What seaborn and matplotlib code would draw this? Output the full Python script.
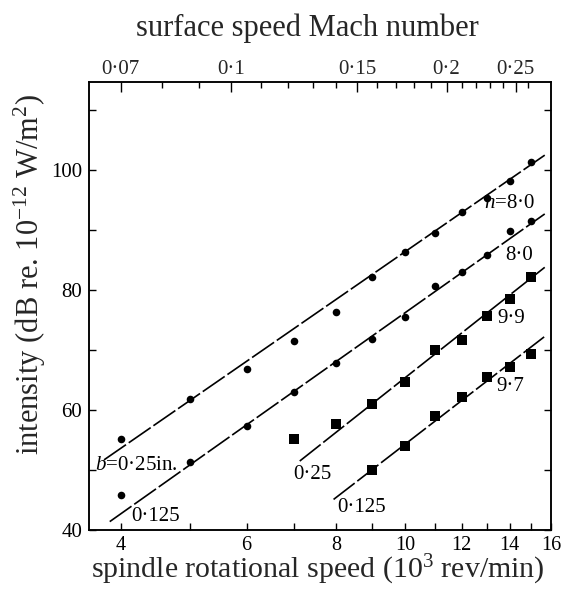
import numpy as np
import pandas as pd
import matplotlib
matplotlib.use("Agg")
import matplotlib.pyplot as plt
from matplotlib.ticker import FixedLocator, FixedFormatter, NullFormatter
import seaborn as sns

# ---- measured data -------------------------------------------------------
# spindle speed in 10^3 rev/min
speed_round = [4, 5, 6, 7, 8, 9, 10, 11, 12, 13, 14, 15]
db_round_b025 = [55.1, 61.8, 66.9, 71.5, 76.3, 82.2, 86.4, 89.5, 93.0, 95.4, 98.2, 101.4]
db_round_b0125 = [45.8, 51.3, 57.3, 63.0, 67.8, 71.8, 75.6, 80.7, 83.0, 85.8, 89.8, 91.5]

speed_sq_b025 = [7, 8, 9, 10, 11, 12, 13, 14, 15]
db_sq_b025 = [55.2, 57.6, 61.0, 64.6, 70.0, 71.7, 75.7, 78.6, 82.2]
speed_sq_b0125 = [9, 10, 11, 12, 13, 14, 15]
db_sq_b0125 = [50.0, 54.0, 59.0, 62.2, 65.5, 67.2, 69.3]

# fitted lines (start / end of each drawn line)
fit_names = ["round 0.25", "round 0.125", "square 0.25", "square 0.125"]
fit_speed_start = [3.79, 3.86, 7.12, 7.94]
fit_speed_end = [15.68, 15.68, 15.68, 15.65]
fit_db_start = [51.7, 41.4, 51.5, 45.1]
fit_db_end = [102.5, 92.7, 83.8, 72.2]

# axis ticks
x_major = [4, 6, 8, 10, 12, 14, 16]
x_minor = [5, 7, 9, 11, 13, 15]
mach_major = [0.07, 0.1, 0.15, 0.2, 0.25]
mach_major_labels = ["0·07", "0·1", "0·15", "0·2", "0·25"]
mach_minor = [0.08, 0.09, 0.11, 0.12, 0.13, 0.14, 0.16, 0.17, 0.18, 0.19,
              0.21, 0.22, 0.23, 0.24, 0.26]
mach_per_speed = 0.0175   # surface Mach number per 10^3 rev/min
y_major = [40, 60, 80, 100]
y_minor = [50, 70, 90, 110]

# in-plot labels: (text, speed, dB)
curve_labels = [
    ("$n$=8·0", 13.98, 94.5),
    ("8·0", 14.43, 85.8),
    ("9·9", 14.07, 75.3),
    ("9·7", 14.02, 64.0),
    ("$b$=0·25in.", 4.21, 50.7),
    ("0·125", 4.47, 42.2),
    ("0·25", 7.42, 49.2),
    ("0·125", 8.70, 43.8),
]

# ---- style ---------------------------------------------------------------
sns.set_theme(style="ticks")
plt.rcParams["font.family"] = ["Liberation Serif", "DejaVu Serif"]
plt.rcParams["mathtext.fontset"] = "custom"
plt.rcParams["mathtext.rm"] = "Liberation Serif"
plt.rcParams["mathtext.it"] = "Liberation Serif:italic"
plt.rcParams["axes.linewidth"] = 1.1

fig = plt.figure(figsize=(5.63, 5.95), dpi=100)
ax = fig.add_axes([0.158, 0.1092, 0.8207, 0.7530])
ax.set_xscale("log")
xlim = (3.61, 16.0)
ax.set_xlim(*xlim)
ax.set_ylim(40, 114.7)

# ---- fitted lines ----------------------------------------------------------
fit_df = pd.DataFrame({
    "line": fit_names * 2,
    "speed": fit_speed_start + fit_speed_end,
    "db": fit_db_start + fit_db_end,
})
sns.lineplot(data=fit_df, x="speed", y="db", units="line", estimator=None,
             color="black", lw=1.2, linestyle=(0, (16, 2)), ax=ax,
             legend=False, sort=True)

# ---- points ---------------------------------------------------------------
round_df = pd.DataFrame({
    "speed": speed_round * 2,
    "db": db_round_b025 + db_round_b0125,
})
square_df = pd.DataFrame({
    "speed": speed_sq_b025 + speed_sq_b0125,
    "db": db_sq_b025 + db_sq_b0125,
})
sns.scatterplot(data=round_df, x="speed", y="db", marker="o", s=30,
                color="black", edgecolor="black", linewidth=0, ax=ax, zorder=3)
sns.scatterplot(data=square_df, x="speed", y="db", marker="s", s=46,
                color="black", edgecolor="black", linewidth=0, ax=ax, zorder=3)

for txt, sx, sy in curve_labels:
    ax.text(sx, sy, txt, fontsize=15, ha="center", va="center", color="black")

# ---- axes ------------------------------------------------------------------
ax.xaxis.set_major_locator(FixedLocator(x_major))
ax.xaxis.set_major_formatter(FixedFormatter([str(v) for v in x_major]))
ax.xaxis.set_minor_locator(FixedLocator(x_minor))
ax.xaxis.set_minor_formatter(NullFormatter())
ax.yaxis.set_major_locator(FixedLocator(y_major))
ax.yaxis.set_minor_locator(FixedLocator(y_minor))
ax.tick_params(axis="both", which="both", direction="in", color="black",
               width=1.0, labelcolor="black")
ax.tick_params(axis="x", which="both", length=5, pad=4, labelsize=14.5)
ax.tick_params(axis="y", which="both", length=5, pad=5, labelsize=15,
               right=True)
ax.set_xlabel("spindle rotational speed (10$^{3}$ rev/min)", fontsize=21.5)
ax.set_ylabel("intensity (dB re. 10$^{-12}$ W/m$^{2}$)", fontsize=22)
ax.xaxis.set_label_coords(0.496, -0.052)
ax.yaxis.set_label_coords(-0.088, 0.57)
for side in ax.spines.values():
    side.set_color("black")

# top axis: surface speed Mach number
top = ax.twiny()
top.set_xscale("log")
top.set_xlim(xlim[0] * mach_per_speed, xlim[1] * mach_per_speed)
top.xaxis.set_major_locator(FixedLocator(mach_major))
top.xaxis.set_major_formatter(FixedFormatter(mach_major_labels))
top.xaxis.set_minor_locator(FixedLocator(mach_minor))
top.xaxis.set_minor_formatter(NullFormatter())
top.tick_params(axis="x", which="major", direction="in", length=7, width=1.0,
                pad=2, labelsize=15, color="black")
top.tick_params(axis="x", which="minor", direction="in", length=4, width=1.0,
                color="black")
for side in top.spines.values():
    side.set_color("black")
    side.set_linewidth(1.1)

fig.text(307 / 563, 1 - 36 / 595, "surface speed Mach number", fontsize=22,
         ha="center", va="baseline")

fig.savefig("out.png", dpi=100)
